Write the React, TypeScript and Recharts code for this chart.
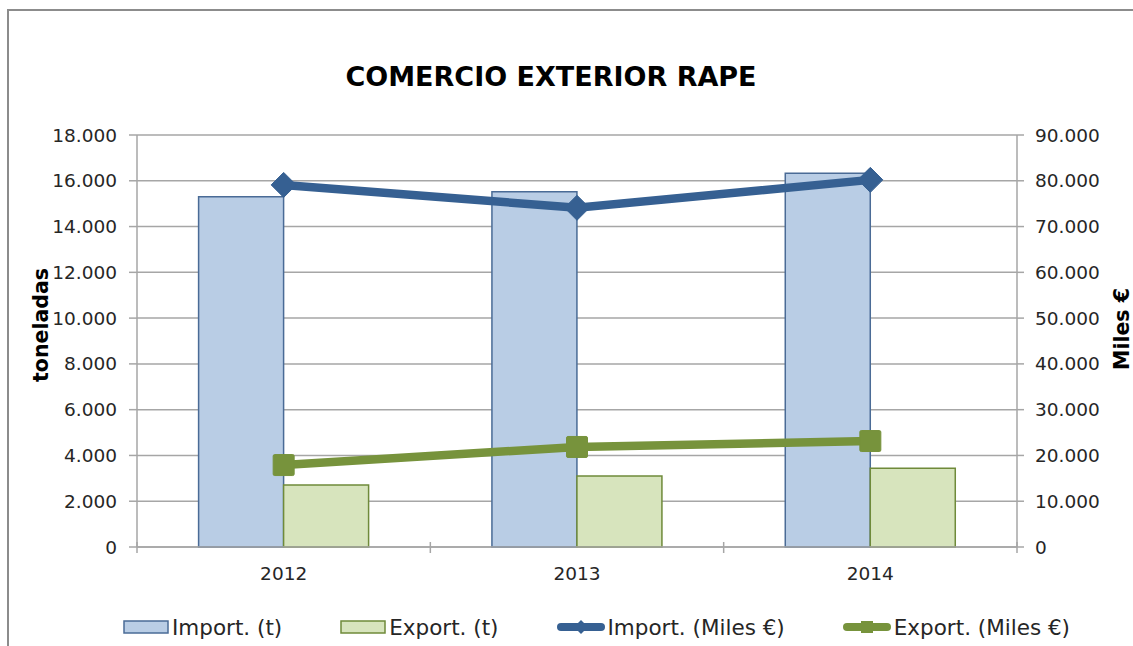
import React from 'react';
import { ComposedChart, Bar, Line, XAxis, YAxis, CartesianGrid, Legend } from 'recharts';

const years = ['2012', '2013', '2014'];
const importTons = [15300, 15520, 16330];
const exportTons = [2710, 3100, 3440];
const importValue = [79100, 74100, 80200];
const exportValue = [17900, 21850, 23150];
const leftTicks = [0, 2000, 4000, 6000, 8000, 10000, 12000, 14000, 16000, 18000];
const rightTicks = [0, 10000, 20000, 30000, 40000, 50000, 60000, 70000, 80000, 90000];

const data = years.map((y, i) => ({
  year: y,
  impT: importTons[i],
  expT: exportTons[i],
  impV: importValue[i],
  expV: exportValue[i],
}));

const FONT = '"DejaVu Sans", Arial, sans-serif';
const GRID = '#a6a6a6';
const TEXT = '#262626';
const BLUE_LINE = '#366092';
const GREEN_LINE = '#77933c';
const BLUE_FILL = '#b9cde5';
const BLUE_STROKE = '#4a6b96';
const GREEN_FILL = '#d7e4bd';
const GREEN_STROKE = '#6f8a3a';

const fmt = (v: number) => String(v).replace(/\B(?=(\d{3})+(?!\d))/g, '.');

function CatTick(props: any) {
  const { x, y, payload, index, visibleTicksCount } = props;
  const off = payload && typeof payload.offset === 'number' ? payload.offset : 0;
  const last = index === (visibleTicksCount ?? 3) - 1;
  return (
    <g>
      <line x1={x - off} x2={x - off} y1={y - 5} y2={y + 6} stroke={GRID} strokeWidth={1.5} />
      {last ? <line x1={x + off} x2={x + off} y1={y - 5} y2={y + 6} stroke={GRID} strokeWidth={1.5} /> : null}
      <text x={x} y={y + 33} textAnchor="middle" fontFamily={FONT} fontSize={18.5} fill={TEXT}>
        {payload.value}
      </text>
    </g>
  );
}

function DiamondDot(props: any) {
  const { cx, cy, index } = props;
  if (cx == null || cy == null) return null;
  const r = 12.5;
  return (
    <path
      key={`dia-${index}`}
      d={`M${cx},${cy - r}L${cx + r},${cy}L${cx},${cy + r}L${cx - r},${cy}Z`}
      fill={BLUE_LINE}
      stroke={BLUE_LINE}
      strokeWidth={1}
    />
  );
}

function SquareDot(props: any) {
  const { cx, cy, index } = props;
  if (cx == null || cy == null) return null;
  const h = 10.5;
  return (
    <rect key={`sq-${index}`} x={cx - h} y={cy - h} width={2 * h} height={2 * h} rx={1.5} fill={GREEN_LINE} stroke={GREEN_LINE} />
  );
}

function LeftLabel(props: any) {
  const vb = props.viewBox || { x: 0, y: 0, width: 0, height: 0 };
  const cx = vb.x + 4;
  const cy = vb.y + vb.height / 2 - 16;
  return (
    <text
      x={cx}
      y={cy}
      transform={`rotate(-90 ${cx} ${cy})`}
      textAnchor="middle"
      dominantBaseline="central"
      fontFamily={FONT}
      fontWeight="bold"
      fontSize={20.5}
      fill="#000"
    >
      toneladas
    </text>
  );
}

function RightLabel(props: any) {
  const vb = props.viewBox || { x: 0, y: 0, width: 0, height: 0 };
  const cx = vb.x + 105;
  const cy = vb.y + vb.height / 2 - 12;
  return (
    <text
      x={cx}
      y={cy}
      transform={`rotate(-90 ${cx} ${cy})`}
      textAnchor="middle"
      dominantBaseline="central"
      fontFamily={FONT}
      fontWeight="bold"
      fontSize={20.5}
      fill="#000"
    >
      Miles €
    </text>
  );
}

function BarIcon({ fill, stroke }: { fill: string; stroke: string }) {
  return (
    <svg width={46} height={16} style={{ display: 'block' }}>
      <rect x={1} y={2} width={44} height={12} fill={fill} stroke={stroke} strokeWidth={1.5} />
    </svg>
  );
}

function LineIcon({ color, shape }: { color: string; shape: 'diamond' | 'square' }) {
  return (
    <svg width={48} height={20} style={{ display: 'block' }}>
      <line x1={4} x2={44} y1={10} y2={10} stroke={color} strokeWidth={8} strokeLinecap="round" />
      {shape === 'diamond' ? (
        <path d="M24,3L31,10L24,17L17,10Z" fill={color} />
      ) : (
        <rect x={18} y={4} width={12} height={12} fill={color} />
      )}
    </svg>
  );
}

function LegendContent() {
  const items = [
    { label: 'Import. (t)', icon: <BarIcon fill={BLUE_FILL} stroke={BLUE_STROKE} /> },
    { label: 'Export. (t)', icon: <BarIcon fill={GREEN_FILL} stroke={GREEN_STROKE} /> },
    { label: 'Import. (Miles €)', icon: <LineIcon color={BLUE_LINE} shape="diamond" /> },
    { label: 'Export. (Miles €)', icon: <LineIcon color={GREEN_LINE} shape="square" /> },
  ];
  return (
    <div
      style={{
        display: 'flex',
        alignItems: 'center',
        height: 30,
        paddingLeft: 123,
        gap: 58,
        fontFamily: FONT,
        fontSize: 21.5,
        color: TEXT,
        whiteSpace: 'nowrap',
      }}
    >
      {items.map((it) => (
        <div key={it.label} style={{ display: 'flex', alignItems: 'center', gap: 3 }}>
          {it.icon}
          <span>{it.label}</span>
        </div>
      ))}
    </div>
  );
}

export default function App() {
  return (
    <div
      style={{
        position: 'fixed',
        left: 0,
        top: 0,
        width: 1133,
        height: 646,
        overflow: 'hidden',
        background: '#fff',
      }}
    >
      <style>{'html,body{overflow:hidden;}'}</style>
      <div
        style={{
          position: 'absolute',
          left: 7,
          top: 9,
          width: 1126,
          height: 637,
          borderLeft: '2px solid #8c8c8c',
          borderTop: '2px solid #8c8c8c',
          boxSizing: 'border-box',
        }}
      />
      <div
        style={{
          position: 'absolute',
          left: 551,
          top: 63,
          transform: 'translateX(-50%)',
          whiteSpace: 'nowrap',
          fontFamily: FONT,
          fontWeight: 'bold',
          fontSize: 27,
          lineHeight: 1,
          color: '#000',
        }}
      >
        COMERCIO EXTERIOR RAPE
      </div>
      <div style={{ position: 'absolute', left: 0, top: 0 }}>
        <ComposedChart
          width={1133}
          height={646}
          data={data}
          margin={{ top: 135, right: 56, bottom: 29, left: 37 }}
          barCategoryGap="21%"
          barGap={0}
        >
          <CartesianGrid yAxisId="left" vertical={false} stroke={GRID} strokeWidth={1.5} />
          <XAxis
            dataKey="year"
            height={40}
            axisLine={{ stroke: GRID, strokeWidth: 1.5 }}
            tickLine={false}
            tickSize={0}
            tickMargin={0}
            interval={0}
            tick={<CatTick />}
          />
          <YAxis
            yAxisId="left"
            width={100}
            domain={[0, 18000]}
            ticks={leftTicks}
            interval={0}
            tickFormatter={fmt}
            axisLine={{ stroke: GRID, strokeWidth: 1.5 }}
            tickLine={{ stroke: GRID, strokeWidth: 1.5 }}
            tickSize={8}
            tickMargin={12}
            tick={{ fontFamily: FONT, fontSize: 18.5, fill: TEXT }}
            label={{ content: <LeftLabel /> }}
          />
          <YAxis
            yAxisId="right"
            orientation="right"
            width={60}
            domain={[0, 90000]}
            ticks={rightTicks}
            interval={0}
            tickFormatter={fmt}
            axisLine={{ stroke: GRID, strokeWidth: 1.5 }}
            tickLine={{ stroke: GRID, strokeWidth: 1.5 }}
            tickSize={7}
            tickMargin={11}
            tick={{ fontFamily: FONT, fontSize: 18.5, fill: TEXT, textAnchor: 'start' }}
            label={{ content: <RightLabel /> }}
          />
          <Legend
            verticalAlign="bottom"
            content={<LegendContent />}
            wrapperStyle={{ left: 0, width: 1133, top: 612, bottom: 'auto', height: 30 }}
          />
          <Bar
            yAxisId="left"
            dataKey="impT"
            name="Import. (t)"
            fill={BLUE_FILL}
            stroke={BLUE_STROKE}
            strokeWidth={1.5}
            isAnimationActive={false}
          />
          <Bar
            yAxisId="left"
            dataKey="expT"
            name="Export. (t)"
            fill={GREEN_FILL}
            stroke={GREEN_STROKE}
            strokeWidth={1.5}
            isAnimationActive={false}
          />
          <Line
            yAxisId="right"
            dataKey="impV"
            name="Import. (Miles €)"
            stroke={BLUE_LINE}
            strokeWidth={8.5}
            dot={DiamondDot}
            activeDot={false}
            isAnimationActive={false}
          />
          <Line
            yAxisId="right"
            dataKey="expV"
            name="Export. (Miles €)"
            stroke={GREEN_LINE}
            strokeWidth={8.5}
            dot={SquareDot}
            activeDot={false}
            isAnimationActive={false}
          />
        </ComposedChart>
      </div>
    </div>
  );
}
